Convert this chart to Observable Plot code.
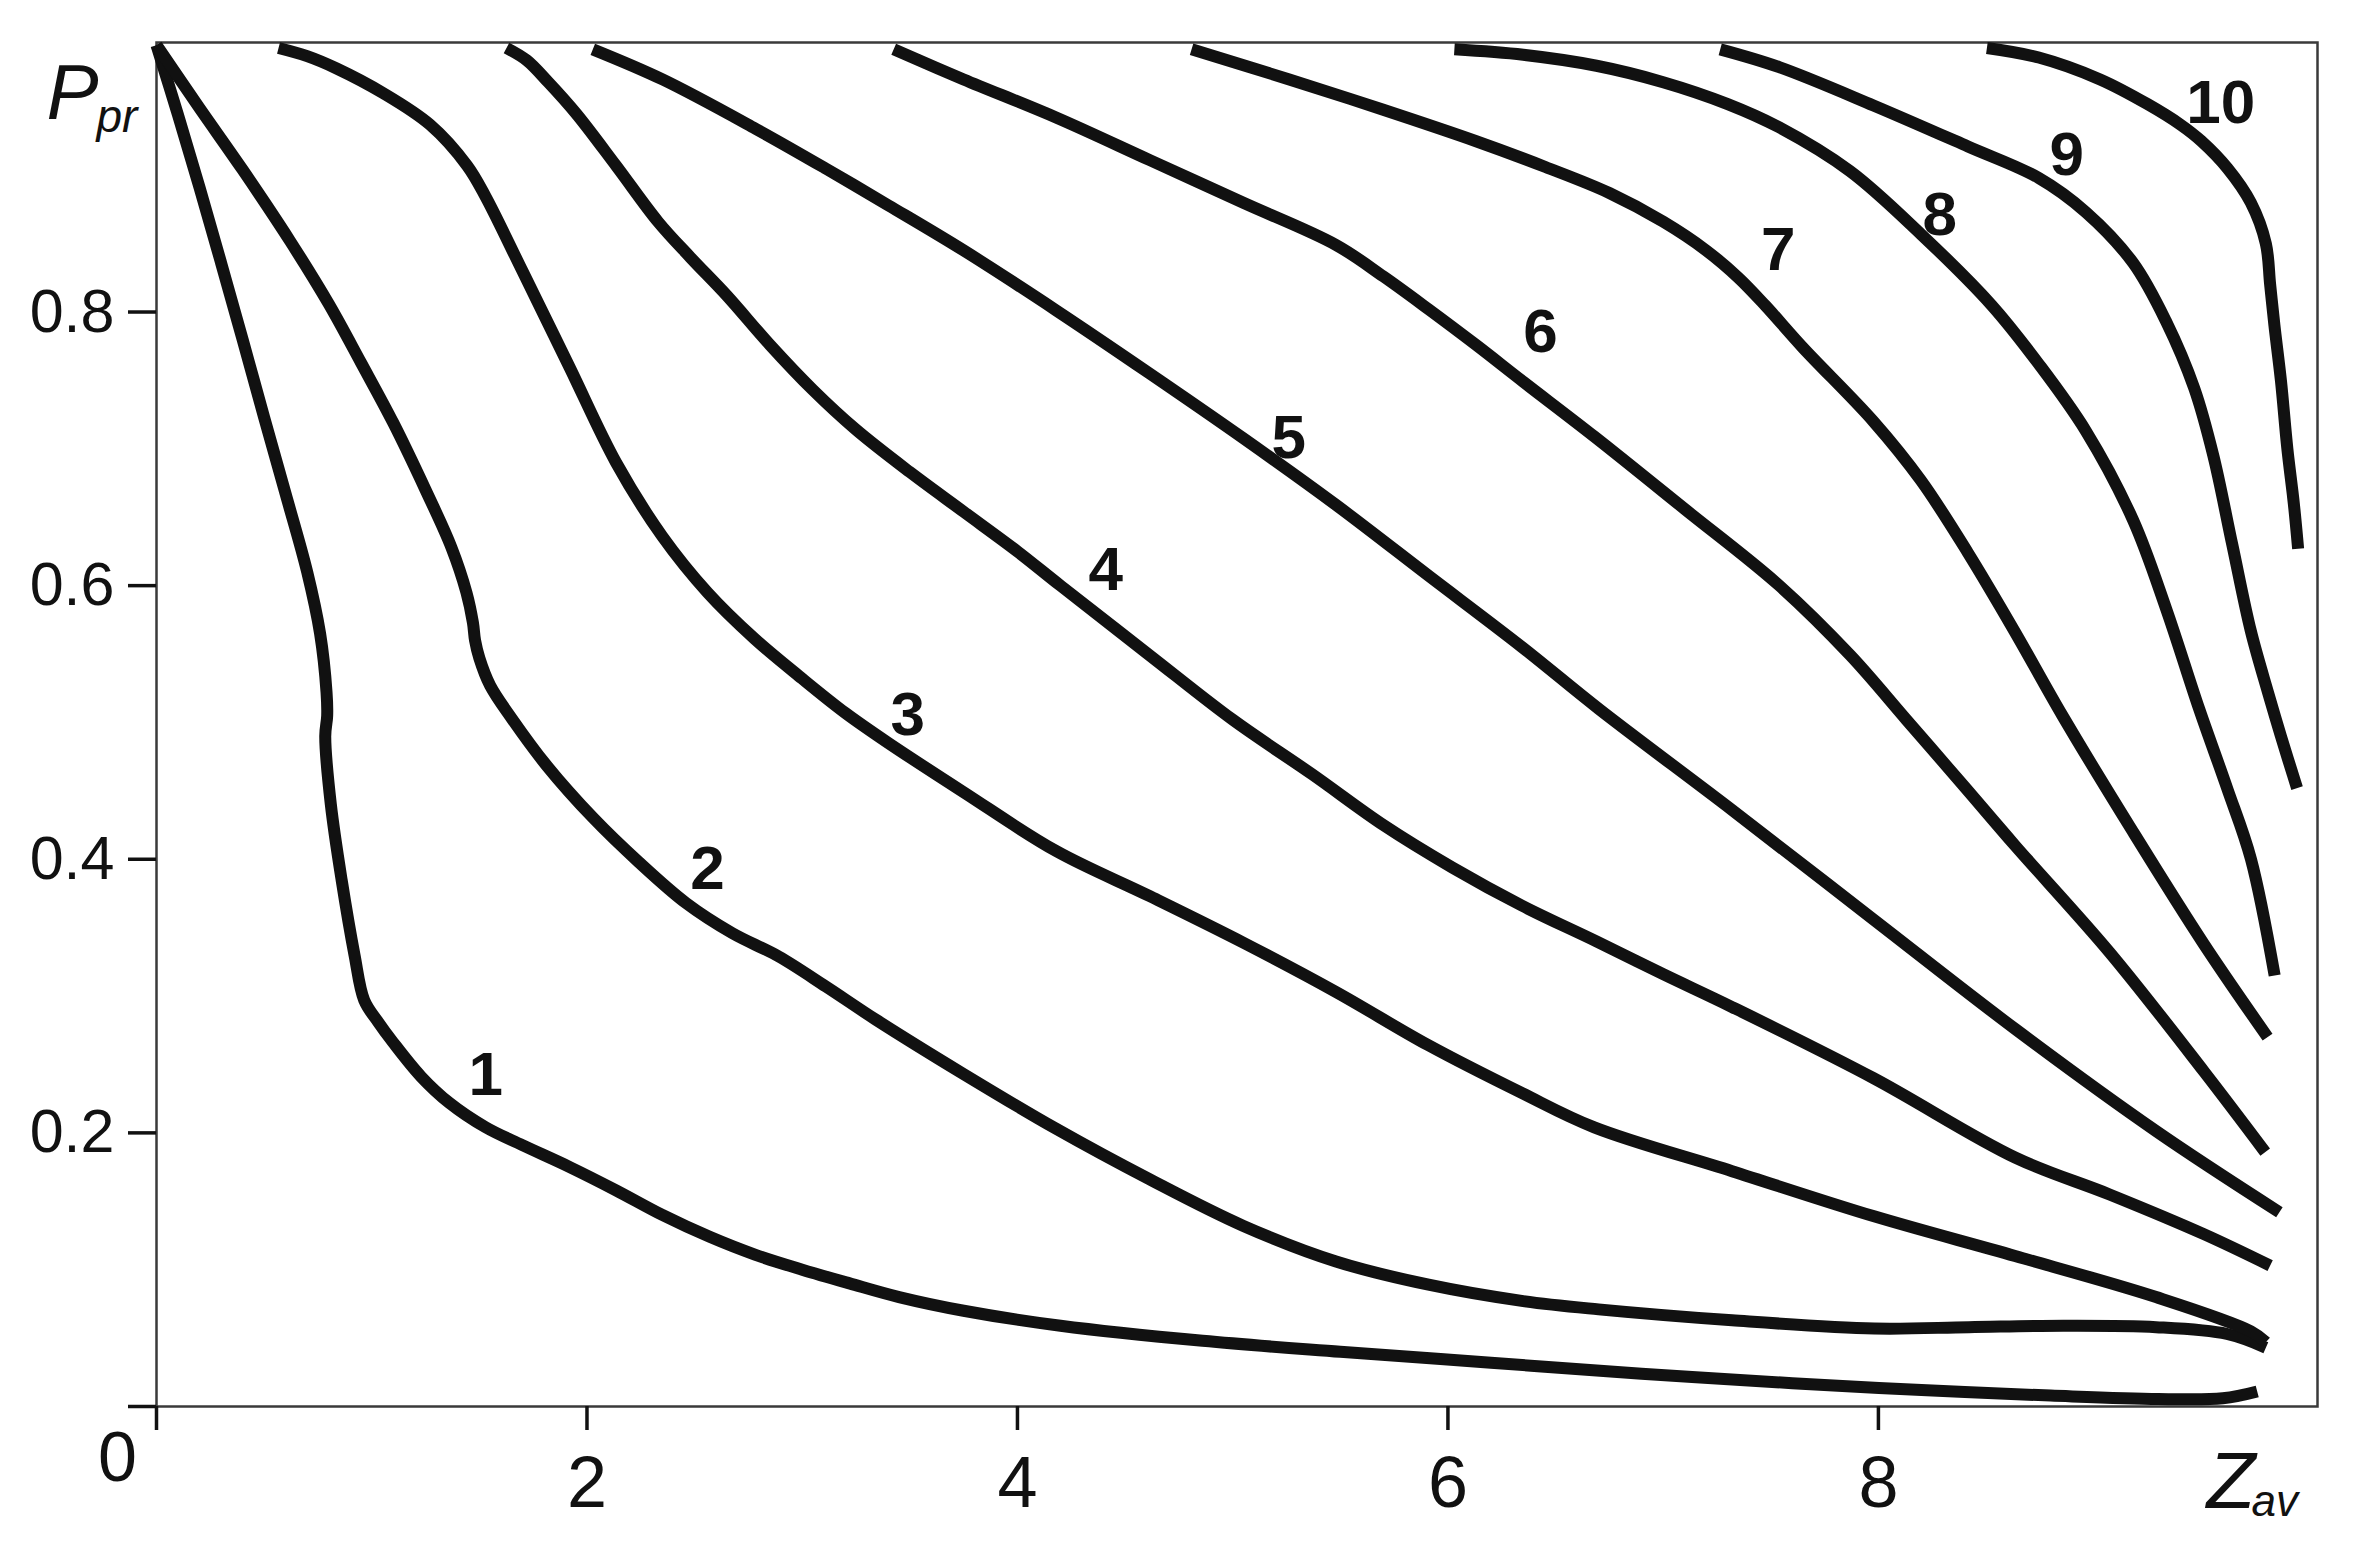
<!DOCTYPE html>
<html><head><meta charset="utf-8">
<script src="https://cdn.jsdelivr.net/npm/d3@7"></script>
<script src="https://cdn.jsdelivr.net/npm/@observablehq/plot@0.6"></script>
<style>
html,body{margin:0;padding:0;background:#fff;}
#chart{width:2356px;height:1541px;}
</style></head><body><div id="chart"></div>
<script>
// Curves: [Z_av, P_pr] points
const curve1 = [[0,0.995],[0.1,0.944],[0.2,0.891],[0.3,0.836],[0.4,0.78],[0.5,0.723],[0.6,0.667],[0.7,0.61],[0.76,0.565],[0.79,0.522],[0.793,0.505],[0.784,0.49],[0.81,0.44],[0.86,0.385],[0.92,0.33],[0.965,0.297],[1.03,0.281],[1.10,0.266],[1.23,0.241],[1.36,0.222],[1.53,0.204],[1.70,0.191],[1.92,0.175],[2.135,0.158],[2.35,0.14],[2.57,0.124],[2.78,0.111],[3.0,0.1],[3.22,0.09],[3.45,0.08],[3.75,0.07],[4.2,0.059],[4.86,0.048],[5.5,0.04],[6.2,0.032],[6.9,0.024],[7.6,0.017],[8.2,0.012],[8.8,0.008],[9.3,0.0055],[9.6,0.006],[9.76,0.011]];
const curve2 = [[0,0.995],[0.2,0.949],[0.40,0.904],[0.62,0.852],[0.80,0.806],[0.95,0.763],[1.10,0.719],[1.25,0.67],[1.37,0.628],[1.44,0.595],[1.47,0.573],[1.48,0.56],[1.50,0.547],[1.55,0.527],[1.65,0.503],[1.81,0.469],[2.03,0.43],[2.24,0.398],[2.46,0.368],[2.675,0.346],[2.89,0.329],[3.11,0.307],[3.34,0.283],[3.75,0.243],[4.18,0.203],[4.615,0.166],[5.05,0.132],[5.48,0.106],[5.91,0.089],[6.35,0.077],[6.7,0.071],[7.32,0.063],[7.98,0.057],[8.42,0.058],[8.86,0.059],[9.29,0.058],[9.62,0.053],[9.8,0.043]];
const curve3 = [[0.567,0.993],[0.70,0.987],[0.837,0.978],[1.053,0.96],[1.27,0.937],[1.443,0.907],[1.53,0.884],[1.70,0.83],[1.918,0.76],[2.135,0.69],[2.35,0.636],[2.56,0.595],[2.78,0.561],[3.0,0.532],[3.2,0.507],[3.4,0.485],[3.75,0.449],[4.18,0.406],[4.615,0.373],[5.05,0.339],[5.48,0.303],[5.91,0.264],[6.345,0.229],[6.68,0.204],[7.32,0.172],[7.98,0.139],[8.635,0.11],[9.29,0.08],[9.73,0.055],[9.8,0.047]];
const curve4 = [[1.626,0.993],[1.72,0.984],[1.82,0.968],[1.95,0.945],[2.135,0.907],[2.33,0.866],[2.48,0.84],[2.65,0.812],[2.85,0.776],[3.05,0.743],[3.25,0.714],[3.5,0.683],[3.75,0.654],[4.0,0.625],[4.2,0.6],[4.615,0.549],[5.0,0.502],[5.37,0.462],[5.70,0.425],[6.02,0.394],[6.345,0.366],[6.69,0.34],[7.0,0.316],[7.32,0.292],[7.977,0.24],[8.635,0.182],[9.074,0.155],[9.512,0.126],[9.82,0.103]];
const curve5 = [[2.027,0.992],[2.351,0.97],[2.783,0.934],[3.108,0.905],[3.4,0.878],[3.75,0.845],[4.182,0.801],[4.615,0.755],[5.047,0.708],[5.48,0.659],[5.912,0.607],[6.345,0.555],[6.7,0.51],[7.32,0.436],[7.977,0.356],[8.635,0.276],[9.293,0.201],[9.863,0.142]];
const curve6 = [[3.425,0.992],[3.75,0.97],[4.182,0.942],[4.615,0.911],[5.047,0.88],[5.48,0.849],[5.70,0.826],[5.91,0.802],[6.13,0.776],[6.35,0.749],[6.68,0.709],[7.10,0.656],[7.54,0.6],[7.87,0.549],[8.13,0.502],[8.4,0.453],[8.635,0.41],[9.074,0.332],[9.512,0.245],[9.797,0.186]];
const curve7 = [[4.809,0.992],[5.263,0.97],[5.696,0.948],[6.128,0.925],[6.453,0.906],[6.75,0.887],[7.0,0.866],[7.2,0.845],[7.35,0.825],[7.473,0.805],[7.649,0.774],[7.977,0.72],[8.197,0.677],[8.416,0.624],[8.635,0.566],[8.855,0.505],[9.183,0.42],[9.512,0.338],[9.808,0.27]];
const curve8 = [[6.03,0.992],[6.35,0.988],[6.69,0.98],[7.0,0.968],[7.3,0.952],[7.539,0.935],[7.868,0.903],[8.197,0.857],[8.526,0.805],[8.745,0.762],[8.964,0.713],[9.183,0.648],[9.337,0.583],[9.49,0.51],[9.62,0.452],[9.731,0.4],[9.841,0.315]];
const curve9 = [[7.265,0.992],[7.539,0.979],[7.977,0.951],[8.416,0.921],[8.745,0.898],[8.964,0.873],[9.183,0.836],[9.337,0.793],[9.468,0.744],[9.556,0.695],[9.644,0.63],[9.73,0.567],[9.81,0.522],[9.87,0.49],[9.945,0.452]];
const curve10 = [[8.504,0.993],[8.745,0.986],[9.03,0.97],[9.25,0.952],[9.403,0.937],[9.50,0.925],[9.622,0.905],[9.73,0.88],[9.80,0.85],[9.82,0.82],[9.84,0.79],[9.87,0.75],[9.90,0.70],[9.93,0.66],[9.95,0.627]];

const curveNames = ["1","2","3","4","5","6","7","8","9","10"];
const labelX = [1.53, 2.56, 3.49, 4.41, 5.26, 6.43, 7.535, 8.285, 8.875, 9.59];
const labelY = [0.242, 0.393, 0.505, 0.611, 0.708, 0.785, 0.845, 0.871, 0.915, 0.953];

const xTicks = [0, 2, 4, 6, 8];
const yTicks = [0, 0.2, 0.4, 0.6, 0.8];
const xDomain = [0, 10.04];
const yDomain = [0, 0.997];

const curves = [curve1, curve2, curve3, curve4, curve5, curve6, curve7, curve8, curve9, curve10];
const rows = [];
curves.forEach((pts, i) => pts.forEach(([x, y]) => rows.push({id: curveNames[i], x, y})));
const labels = curveNames.map((t, i) => ({t, x: labelX[i], y: labelY[i]}));

const ink = "#111";
const chart = Plot.plot({
  width: 2356, height: 1541,
  marginLeft: 156, marginRight: 39, marginTop: 42, marginBottom: 135,
  x: {domain: xDomain},
  y: {domain: yDomain},
  style: {fontFamily: "'Liberation Sans', Arial, sans-serif", background: "#fff", color: ink},
  marks: [
    Plot.frame({stroke: "#3a3a3a", strokeWidth: 2.5}),
    Plot.axisY({ticks: yTicks, tickSize: 28, tickPadding: 14, strokeWidth: 3.5,
      tickFormat: d => d === 0 ? "" : d3.format(".1f")(d), fontSize: 61, label: null}),
    Plot.axisX({ticks: xTicks, tickSize: 24, tickPadding: 25, strokeWidth: 3.5,
      tickFormat: d => d === 0 ? "" : String(d), fontSize: 72, label: null}),
    Plot.text([xTicks[0]], {x: d => d, y: d => d, text: d => String(d), dx: -39, dy: 52, fontSize: 70, fill: ink}),
    Plot.line(rows, {x: "x", y: "y", z: "id", stroke: ink, strokeWidth: 12, curve: "catmull-rom",
      strokeLinejoin: "round", strokeLinecap: "butt"}),
    Plot.text(labels, {x: "x", y: "y", text: "t", fontSize: 62, fontWeight: "bold", fill: ink}),
    Plot.text(["P"], {frameAnchor: "top-left", text: d => d, textAnchor: "start", lineAnchor: "bottom",
      dx: -110, dy: 76, fontSize: 78, fontStyle: "italic", fill: ink}),
    Plot.text(["pr"], {frameAnchor: "top-left", text: d => d, textAnchor: "start", lineAnchor: "bottom",
      dx: -60, dy: 89, fontSize: 46, fontStyle: "italic", fill: ink}),
    Plot.text(["Z"], {frameAnchor: "bottom-right", text: d => d, textAnchor: "start", lineAnchor: "bottom",
      dx: -111, dy: 101, fontSize: 80, fontStyle: "italic", fill: ink}),
    Plot.text(["av"], {frameAnchor: "bottom-right", text: d => d, textAnchor: "start", lineAnchor: "bottom",
      dx: -66, dy: 109, fontSize: 44, fontStyle: "italic", fill: ink})
  ]
});
document.getElementById("chart").appendChild(chart);
</script>
</body></html>
